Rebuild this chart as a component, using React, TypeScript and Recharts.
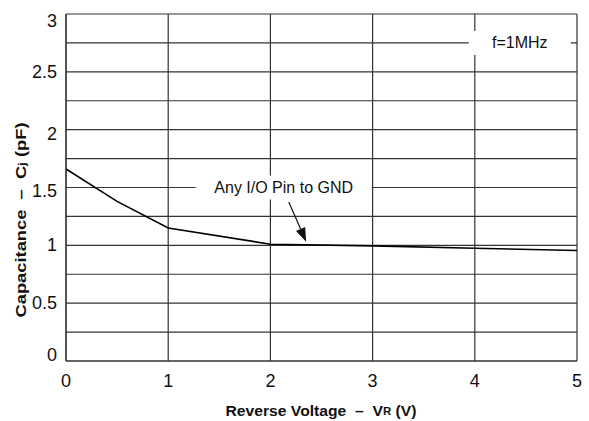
import { CartesianGrid, Label, Line, LineChart, ReferenceDot, ReferenceLine, XAxis, YAxis } from "recharts";

const voltages = [0, 0.5, 1, 2, 3, 4, 5];
const capacitance = [1.66, 1.38, 1.15, 1.01, 0.995, 0.975, 0.955];
const xTicks = [0, 1, 2, 3, 4, 5];
const yTicks = [0, 0.25, 0.5, 0.75, 1, 1.25, 1.5, 1.75, 2, 2.25, 2.5, 2.75, 3];

const data = voltages.map((v, i) => ({ v, c: capacitance[i] }));

const FONT = "'Liberation Sans', Arial, sans-serif";

function BoxedText({ cx, cy, text, width }: any) {
  return (
    <g>
      <rect x={cx - width / 2} y={cy - 12} width={width} height={24} fill="#fff" />
      <text x={cx} y={cy} textAnchor="middle" dominantBaseline="central" fontFamily={FONT} fontSize={16} fill="#111">
        {text}
      </text>
    </g>
  );
}

function Arrow({ x1, y1, x2, y2 }: any) {
  const ang = Math.atan2(y2 - y1, x2 - x1);
  const len = 14;
  const half = 5;
  const bx = x2 - len * Math.cos(ang);
  const by = y2 - len * Math.sin(ang);
  const px = -Math.sin(ang) * half;
  const py = Math.cos(ang) * half;
  return (
    <g>
      <line x1={x1} y1={y1} x2={bx} y2={by} stroke="#111" strokeWidth={1.2} />
      <polygon points={`${x2},${y2} ${bx + px},${by + py} ${bx - px},${by - py}`} fill="#111" />
    </g>
  );
}

// end labels sit inside the plot box, as in the original
function YTick({ x, y, payload }: any) {
  const v = payload.value;
  if (Math.abs(v * 2 - Math.round(v * 2)) > 1e-6) return null;
  const dy = v === 3 ? 7 : v === 0 ? -6 : v === 1.5 ? 3 : v === 2 ? 4 : 0;
  return (
    <text x={x} y={y + dy} textAnchor="end" dominantBaseline="central" fontFamily={FONT} fontSize={18} fill="#111">
      {String(v)}
    </text>
  );
}

export default function App() {
  return (
    <div style={{ position: "absolute", left: 0, top: 0, background: "#fff" }}>
      <LineChart width={589} height={421} data={data} margin={{ top: 14, right: 12, bottom: 0, left: 0 }}>
        <CartesianGrid stroke="#333" strokeWidth={1.2} horizontalValues={yTicks} verticalValues={xTicks} />
        <XAxis
          dataKey="v"
          type="number"
          domain={[0, 5]}
          ticks={xTicks}
          height={60}
          tickLine={false}
          tickSize={0}
          tickMargin={13}
          axisLine={{ stroke: "#333", strokeWidth: 1.2 }}
          tick={{ fill: "#111", fontSize: 18, fontFamily: FONT }}
        >
          <Label
            content={() => (
              <text
                x={321}
                y={410}
                textAnchor="middle"
                dominantBaseline="central"
                fontFamily={FONT}
                fontSize={15}
                fontWeight="bold"
                fill="#111"
                textLength={191}
                lengthAdjust="spacingAndGlyphs"
                style={{ whiteSpace: "pre" }}
              >
                {"Reverse Voltage  –  V"}
                <tspan fontSize={11} dy={1}>R</tspan>
                <tspan dy={-1}>{" (V)"}</tspan>
              </text>
            )}
          />
        </XAxis>
        <YAxis
          type="number"
          domain={[0, 3]}
          ticks={yTicks}
          width={66}
          tickLine={false}
          tickSize={0}
          tickMargin={9}
          interval={0}
          axisLine={{ stroke: "#333", strokeWidth: 1.2 }}
          tick={<YTick />}
        >
          <Label
            content={() => {
              const cx = 20;
              const cy = 220;
              return (
                <text
                  x={cx}
                  y={cy}
                  transform={`rotate(-90 ${cx} ${cy})`}
                  textAnchor="middle"
                  dominantBaseline="central"
                  fontFamily={FONT}
                  fontSize={15}
                  fontWeight="bold"
                  fill="#111"
                  textLength={195}
                  lengthAdjust="spacingAndGlyphs"
                  style={{ whiteSpace: "pre" }}
                >
                  {"Capacitance  –  C"}
                  <tspan fontSize={11} dy={2}>j</tspan>
                  <tspan dy={-2}>{" (pF)"}</tspan>
                </text>
              );
            }}
          />
        </YAxis>
        <Line type="linear" dataKey="c" stroke="#000" strokeWidth={1.6} dot={false} isAnimationActive={false} />
        <ReferenceDot x={2.13} y={1.5} shape={(p: any) => <BoxedText {...p} text="Any I/O Pin to GND" width={176} />} />
        <ReferenceDot x={4.44} y={2.75} shape={(p: any) => <BoxedText {...p} text="f=1MHz" width={102} />} />
        <ReferenceLine
          segment={[
            { x: 2.18, y: 1.375 },
            { x: 2.35, y: 1.03 },
          ]}
          shape={(p: any) => <Arrow {...p} />}
        />
      </LineChart>
    </div>
  );
}
